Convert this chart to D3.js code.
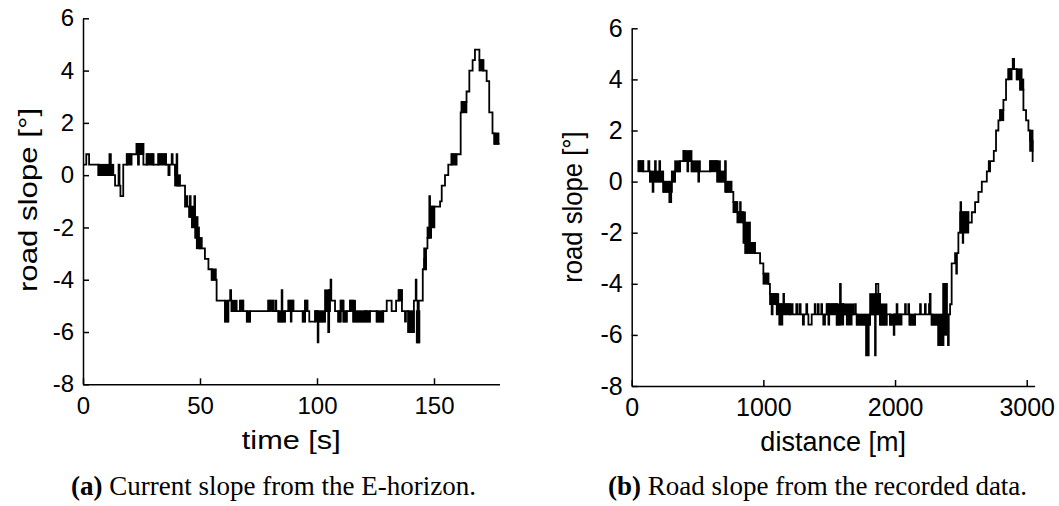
<!DOCTYPE html>
<html><head><meta charset="utf-8">
<script src="https://cdn.jsdelivr.net/npm/d3@7"></script>
<style>html,body{margin:0;padding:0;background:#fff}svg{display:block}</style>
</head><body>
<svg id="c" width="1059" height="506"></svg>
<script>
// ---------- DATA ----------
const yTicks = [-8,-6,-4,-2,0,2,4,6];
const xTicksA = [0,50,100,150];
const xTicksB = [0,1000,2000,3000];
const xLabelA = "time [s]";
const xLabelB = "distance [m]";
const yLabel = "road slope [°]";
const captionA = ["(a)", " Current slope from the E-horizon."];
const captionB = ["(b)", " Road slope from the recorded data."];

// (a) step changes [time s, slope deg]
const stepsA = [
 [0,0.4],[1.4,0.8],[2.6,0.4],
 [6.6,0],[11.3,0.8],[11.9,0],
 [13.7,-0.4],[15.2,0.4],[15.6,-0.4],[16.0,-0.8],[17.2,0.4],
 [18.7,0.8],[22.9,1.2],[23.5,0.4],[23.9,1.2],[25.8,0.4],
 [27.2,0.8],[30.1,0.4],[32.2,0.8],[35.5,0.4],
 [36.5,0],[37.0,0.4],[37.9,0.8],[38.3,0.4],
 [39.3,0],[40.0,0.8],[40.3,-0.4],
 [43.6,-1.2],[44.3,-0.8],[44.6,-1.2],[45.7,-0.8],[46.0,-1.6],[47.6,-0.8],[47.9,-2.0],[48.5,-2.4],[49.6,-2.8],
 [52.1,-3.2],[53.6,-3.6],[55.0,-4.0],[57.1,-4.8],
 [60.7,-5.6],[62.1,-4.8],[62.9,-4.4],[63.3,-4.8],[63.5,-5.2],
 [67.1,-4.8],[68.5,-5.2],[70.0,-5.6],[71.4,-5.2],
 [79.2,-4.8],[81.3,-5.2],[82.2,-4.8],[82.6,-5.2],
 [83.5,-5.6],[84.9,-4.4],[85.2,-5.6],[86.3,-5.2],
 [87.8,-4.8],[88.8,-5.6],[89.1,-4.8],[89.9,-5.2],
 [93.9,-5.6],[94.9,-4.8],[95.9,-5.2],[96.7,-5.6],
 [99.2,-5.2],[100.3,-6.4],[100.6,-5.6],[103.4,-5.2],[104.8,-6.0],[105.2,-4.4],[105.8,-4.0],[106.1,-4.8],[107.7,-5.2],
 [109.1,-5.6],[110.1,-4.8],[111.3,-5.6],[112.7,-5.2],
 [114.1,-4.8],[115.5,-5.6],[120.5,-5.2],[121.2,-5.6],[122.6,-5.2],
 [125.5,-5.6],[128.3,-5.2],[129.8,-4.8],[131.9,-5.2],[133.8,-4.8],[134.9,-4.4],[136.3,-5.2],[137.6,-5.6],[138.0,-5.2],
 [139.0,-6.0],[141.4,-4.8],[142.2,-4.0],[142.5,-4.8],[143.0,-6.4],[143.5,-4.8],
 [145.2,-3.6],[145.8,-2.8],[146.1,-3.6],[146.6,-2.8],
 [147.2,-2.4],[148.0,-0.8],[148.3,-2.0],[148.8,-1.2],
 [152.6,-1.0],[153.3,-0.4],[154.7,0],[156.1,0.4],[157.5,0.8],
 [161.4,2.4],[161.8,2.8],[163.9,3.2],[165.1,4.0],[166.5,4.4],[167.5,4.8],[169.4,4.4],[171.1,4.0],[172.5,3.6],[173.6,2.4],[175.0,1.6],[175.8,1.2],[178,1.2]
];
// (a) dense flicker blocks [t0, t1, low, high]
const bandsA = [
 [6.6,13.0,0,0.4],[18.7,20.8,0.4,0.8],[22.9,25.8,0.8,1.2],[27.2,30.1,0.4,0.8],[32.2,35.5,0.4,0.8],
 [39.3,41.5,-0.4,0],[45.3,47.6,-1.6,-1.2],[46.5,49.0,-2.0,-1.6],[47.9,49.6,-2.4,-2.0],[48.6,50.8,-2.8,-2.4],
 [55.0,56.8,-4.0,-3.6],[60.7,62.1,-5.6,-4.8],[63.5,65.7,-5.2,-4.8],[67.1,68.5,-5.2,-4.8],[70.0,71.4,-5.6,-5.2],
 [79.2,81.3,-5.2,-4.8],[83.5,86.3,-5.6,-5.2],[87.8,89.9,-5.2,-4.8],[93.9,94.9,-5.6,-5.2],[94.9,95.9,-5.2,-4.8],
 [99.2,103.4,-5.6,-5.2],[103.4,105.6,-5.2,-4.4],[109.1,110.1,-5.6,-5.2],[110.1,111.3,-5.2,-4.8],[111.3,112.7,-5.6,-5.2],
 [114.1,116.3,-5.2,-4.8],[115.5,120.5,-5.6,-5.2],[121.2,122.6,-5.6,-5.2],[125.5,128.3,-5.6,-5.2],[134.9,136.3,-4.8,-4.4],
 [139.0,141.4,-6.0,-5.2],[142.6,143.8,-6.4,-5.2],[145.8,146.6,-3.6,-3.2],[147.2,148.8,-2.4,-2.0],[148.8,150.2,-2.0,-1.2],
 [157.5,159.7,0.4,0.8],[161.8,163.9,2.4,2.8],[169.4,171.1,4.0,4.4],[175.8,177.6,1.2,1.6]
];

// (b) step changes [distance m, slope deg]
const stepsB = [
 [50,0.8],[88,0.4],[126,0.8],[134,0.4],[139,0],
 [159,-0.4],[165,0],[177,0.8],[183,0],[210,0.8],[216,0],
 [240,-0.4],[286,-0.8],[300,-0.4],[304,0],[329,0.4],[367,0.8],[392,1.2],[398,0.8],
 [423,0.4],[429,0.8],[455,0.4],[506,0],[512,0.4],
 [595,0.8],[650,0],[709,0.8],[715,-0.4],
 [772,-0.8],[802,-1.2],[823,-0.8],[828,-1.2],[848,-1.6],[861,-2.4],[936,-2.8],[975,-3.2],[1000,-3.6],[1038,-4.0],[1050,-4.4],[1063,-5.2],[1070,-4.4],
 [1101,-4.8],[1121,-5.6],[1126,-4.8],[1139,-5.6],[1144,-4.8],[1152,-4.4],[1157,-4.8],
 [1202,-5.2],[1212,-4.8],[1222,-5.2],[1250,-4.8],[1258,-5.2],[1275,-4.8],[1283,-5.2],[1300,-5.6],[1308,-5.2],[1326,-4.8],[1333,-5.2],[1342,-5.6],[1367,-5.2],[1390,-4.8],[1396,-5.2],[1414,-4.8],[1420,-5.2],[1440,-4.8],[1446,-5.2],[1455,-5.6],[1468,-5.2],
 [1481,-4.8],[1494,-5.6],[1500,-4.8],[1557,-5.6],[1582,-4.0],[1588,-4.8],[1607,-5.2],[1696,-4.8],[1702,-5.2],[1709,-5.6],[1780,-6.8],[1786,-5.6],[1795,-6.8],[1800,-5.6],
 [1810,-5.2],[1848,-6.8],[1853,-4.4],[1855,-4.0],[1873,-4.4],[1886,-5.6],[1936,-5.2],[1962,-5.6],[1990,-6.0],[1995,-5.2],[2012,-4.8],[2018,-5.2],[2076,-4.8],[2082,-5.2],[2101,-4.8],[2107,-5.2],[2110,-5.6],
 [2152,-5.2],[2190,-4.8],[2196,-5.2],[2227,-4.8],[2233,-5.2],[2258,-4.8],[2264,-4.4],[2270,-5.2],[2278,-5.6],[2329,-6.4],[2367,-4.0],[2393,-5.2],[2402,-6.4],[2408,-5.2],
 [2418,-4.8],[2430,-3.2],[2456,-2.8],[2465,-3.6],[2470,-2.8],[2481,-2.0],[2497,-0.8],[2502,-1.2],[2514,-2.4],[2518,-1.2],[2557,-1.6],[2583,-1.2],[2608,-0.8],[2633,-0.4],[2659,0],[2697,0.4],[2712,0.8],[2716,0.4],[2722,0.8],[2750,1.2],[2767,2.0],[2785,2.4],[2798,2.8],[2823,3.2],[2843,4.0],[2861,4.4],[2894,4.8],[2904,4.4],[2924,4.0],[2950,3.6],[2975,2.8],[2995,2.4],[3013,2.0],[3025,1.6],[3045,0.8],[3051,0.8]
];
const bandsB = [
 [50,88,0.4,0.8],[139,240,0,0.4],[240,304,-0.4,0],[304,329,0,0.4],[329,367,0.4,0.8],[405,455,0.8,1.2],[455,519,0.4,0.8],
 [595,671,0.4,0.8],[650,709,0,0.4],[709,759,-0.4,0],[772,802,-1.2,-0.8],[802,861,-1.6,-1.2],[848,899,-2.4,-1.6],[861,936,-2.8,-2.4],
 [1000,1038,-4.0,-3.6],[1050,1114,-4.8,-4.4],[1101,1202,-5.2,-4.8],[1481,1557,-5.2,-4.8],[1557,1607,-5.6,-4.8],[1607,1683,-5.2,-4.8],[1633,1671,-5.6,-5.2],
 [1709,1810,-5.6,-5.2],[1810,1886,-5.2,-4.4],[1886,1936,-5.6,-4.8],[1962,2050,-5.6,-5.2],[2110,2152,-5.6,-5.2],[2278,2380,-5.6,-5.2],[2329,2367,-6.4,-5.6],[2367,2393,-6.0,-4.0],
 [2494,2557,-2.0,-1.2],[2798,2823,2.4,2.8],[2861,2886,4.0,4.4],[2924,2962,4.0,4.4],[2950,2975,3.6,4.0],[3025,3045,1.2,2.0]
];

// ---------- DRAW ----------
const svg = d3.select("#c");
const SANS = "'Liberation Sans', Arial, Helvetica, sans-serif";
const SERIF = "'Liberation Serif', 'Times New Roman', serif";

function panel(cfg){
  const g = svg.append("g");
  const x = d3.scaleLinear().domain(cfg.xDomain).range(cfg.xRange);
  const y = d3.scaleLinear().domain([-8,6]).range(cfg.yRange);

  // blocks of dense flicker
  g.append("g").selectAll("rect").data(cfg.bands).join("rect")
    .attr("x", d => x(d[0])).attr("width", d => x(d[1]) - x(d[0]))
    .attr("y", d => y(d[3])).attr("height", d => y(d[2]) - y(d[3]))
    .attr("fill", "#000").attr("stroke", "#000").attr("stroke-width", 1.6);

  const line = d3.line().x(d => x(d[0])).y(d => y(d[1])).curve(d3.curveStepAfter);
  g.append("path").datum(cfg.steps).attr("d", line)
    .attr("fill", "none").attr("stroke", "#000").attr("stroke-width", 1.8);

  const ax = g.append("g").attr("transform", `translate(0,${y(-8)})`)
    .call(d3.axisBottom(x).tickValues(cfg.xTicks).tickFormat(d3.format("d")).tickSize(-6).tickSizeOuter(0).tickPadding(cfg.xPad));
  const ay = g.append("g").attr("transform", `translate(${x(0)},0)`)
    .call(d3.axisLeft(y).tickValues(yTicks).tickFormat(d3.format("d")).tickSize(-6).tickSizeOuter(0).tickPadding(9));
  [ax, ay].forEach(a => {
    a.attr("font-family", SANS).attr("font-size", cfg.tickFont);
    a.selectAll("path,line").attr("stroke", "#000").attr("stroke-width", 1.5);
    a.selectAll("text").attr("fill", "#000");
  });
  ay.selectAll("text").text(d => d < 0 ? "-" + Math.abs(d) : d);

  g.append("text").text(cfg.xLabel)
    .attr("transform", `translate(${(cfg.xRange[0]+cfg.xRange[1])/2},${cfg.xLabelY}) scale(${cfg.xLabelSX},1)`)
    .attr("text-anchor", "middle").attr("font-family", SANS).attr("font-size", cfg.labelFont).attr("fill", "#000");
  g.append("text").text(yLabel)
    .attr("transform", `translate(${cfg.yLabelX},${cfg.yLabelCY}) rotate(-90) scale(${cfg.yLabelSX},1)`)
    .attr("text-anchor", "middle").attr("font-family", SANS).attr("font-size", cfg.labelFont).attr("fill", "#000");

  const cap = svg.append("text").attr("x", cfg.capX).attr("y", 495)
    .attr("font-family", SERIF).attr("font-size", 27).attr("fill", "#000");
  cap.append("tspan").attr("font-weight", "bold").text(cfg.caption[0]);
  cap.append("tspan").text(cfg.caption[1]);
}

panel({
  xDomain: [0,178], xRange: [83, 83 + 178*2.34], yRange: [384.3, 18.3],
  steps: stepsA, bands: bandsA, xTicks: xTicksA, xPad: 13, tickFont: 24,
  xLabel: xLabelA, xLabelY: 448.5, xLabelSX: 1.18, labelFont: 26,
  yLabelX: 37, yLabelCY: 200, yLabelSX: 1.2,
  caption: captionA, capX: 71
});
panel({
  xDomain: [0,3060], xRange: [631.7, 631.7 + 3060*0.13167], yRange: [386, 28.3],
  steps: stepsB, bands: bandsB, xTicks: xTicksB, xPad: 12, tickFont: 25,
  xLabel: xLabelB, xLabelY: 451, xLabelSX: 1.0, labelFont: 27,
  yLabelX: 582, yLabelCY: 207, yLabelSX: 0.95,
  caption: captionB, capX: 608
});
</script>
</body></html>
